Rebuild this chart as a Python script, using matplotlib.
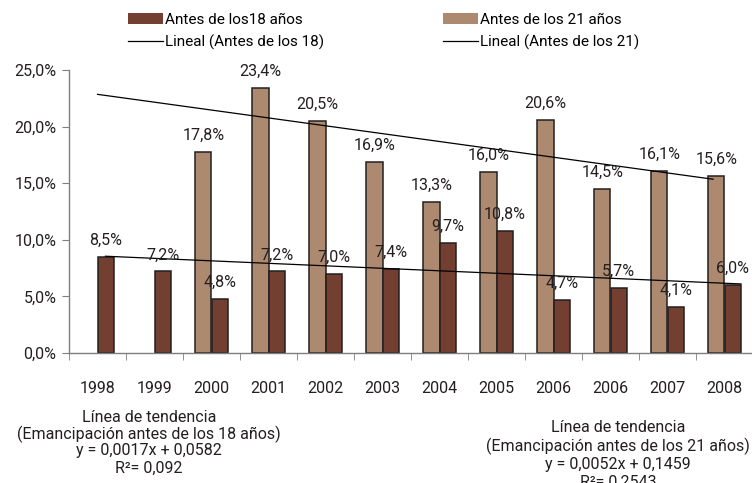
import numpy as np
import matplotlib.pyplot as plt
from matplotlib.patches import Patch
from matplotlib.lines import Line2D

plt.rcParams['font.family'] = ['Roboto', 'DejaVu Sans']

# data
years = ["1998", "1999", "2000", "2001", "2002", "2003", "2004", "2005", "2006", "2006", "2007", "2008"]
antes_18 = [8.5, 7.2, 4.8, 7.2, 7.0, 7.4, 9.7, 10.8, 4.7, 5.7, 4.1, 6.0]
antes_21 = [np.nan, np.nan, 17.8, 23.4, 20.5, 16.9, 13.3, 16.0, 20.6, 14.5, 16.1, 15.6]

# trend lines as drawn (value at start / end of line, in category units)
trend18_x = [0.14, 11.29]
trend18_y = [8.55, 6.1]
trend21_x = [0.0, 10.8]
trend21_y = [22.85, 15.35]

dark = "#723f31"
light = "#ad8a6f"
edge = "#231f20"
axis_col = "#7f7f7f"
fs = 11.5

def fmt(v):
    return f"{v:.1f}".replace(".", ",") + "%"

fig = plt.figure(figsize=(7.52, 4.83), dpi=100)
ax = fig.add_axes([69 / 752, 130 / 483, 684 / 752, 283 / 483])

x = np.arange(len(years))
w = 0.286
ax.bar(x - w / 2, antes_21, w, color=light, edgecolor=edge, linewidth=1.1, zorder=2)
ax.bar(x + w / 2, antes_18, w, color=dark, edgecolor=edge, linewidth=1.1, zorder=2)

ax.plot(trend18_x, trend18_y, color="black", lw=0.9, zorder=3)
ax.plot(trend21_x, trend21_y, color="black", lw=0.9, zorder=3)

for xi, v in zip(x, antes_21):
    if not np.isnan(v):
        ax.annotate(fmt(v), (xi - w / 2, v), xytext=(0, 12), textcoords="offset points",
                    ha="center", va="center", fontsize=fs, color="#231f20", zorder=4)
for xi, v in zip(x, antes_18):
    ax.annotate(fmt(v), (xi + w / 2, v), xytext=(0, 12), textcoords="offset points",
                ha="center", va="center", fontsize=fs, color="#231f20", zorder=4)

ax.set_xlim(-0.5, len(years) - 0.5)
ax.set_ylim(0, 25)
ax.set_yticks([0, 5, 10, 15, 20, 25])
ax.set_yticklabels([fmt(t) for t in [0, 5, 10, 15, 20, 25]], fontsize=fs, color="#231f20")
ax.set_xticks(x)
ax.set_xticklabels(years, fontsize=fs, color="#231f20")
ax.set_xticks(np.arange(-0.5, len(years)), minor=True)
ax.tick_params(axis="x", which="major", length=0, pad=20)
ax.tick_params(axis="x", which="minor", length=5, color=axis_col, direction="out")
ax.tick_params(axis="y", length=5, color=axis_col, direction="out", pad=4)

for s in ["top", "right"]:
    ax.spines[s].set_visible(False)
for s in ["left", "bottom"]:
    ax.spines[s].set_color(axis_col)
    ax.spines[s].set_linewidth(1.0)

h1 = [Patch(facecolor=dark, edgecolor="none"), Line2D([], [], color="black", lw=0.9)]
h2 = [Patch(facecolor=light, edgecolor="none"), Line2D([], [], color="black", lw=0.9)]
kw = dict(frameon=False, fontsize=11, handlelength=2.3, handleheight=0.75,
          handletextpad=0.15, labelspacing=0.5, borderpad=0, borderaxespad=0,
          loc="upper left")
leg1 = fig.legend(h1, ["Antes de los18 años", "Lineal (Antes de los 18)"],
                  bbox_to_anchor=(128 / 752, 1 - 13 / 483), **kw)
leg2 = fig.legend(h2, ["Antes de los 21 años", "Lineal (Antes de los 21)"],
                  bbox_to_anchor=(443 / 752, 1 - 13 / 483), **kw)

left_txt = ["Línea de tendencia", "(Emancipación antes de los 18 años)",
            "y = 0,0017x + 0,0582", "R²= 0,092"]
right_txt = ["Línea de tendencia", "(Emancipación antes de los 21 años)",
             "y = 0,0052x + 0,1459", "R²= 0,2543"]
for i, t in enumerate(left_txt):
    fig.text(149 / 752, 1 - (417 + 17 * i) / 483, t, ha="center", va="center",
             fontsize=fs, color="#231f20")
for i, t in enumerate(right_txt):
    fig.text(618 / 752, 1 - (428 + 18 * i) / 483, t, ha="center", va="center",
             fontsize=fs, color="#231f20")

fig.savefig("out.png", dpi=100)
